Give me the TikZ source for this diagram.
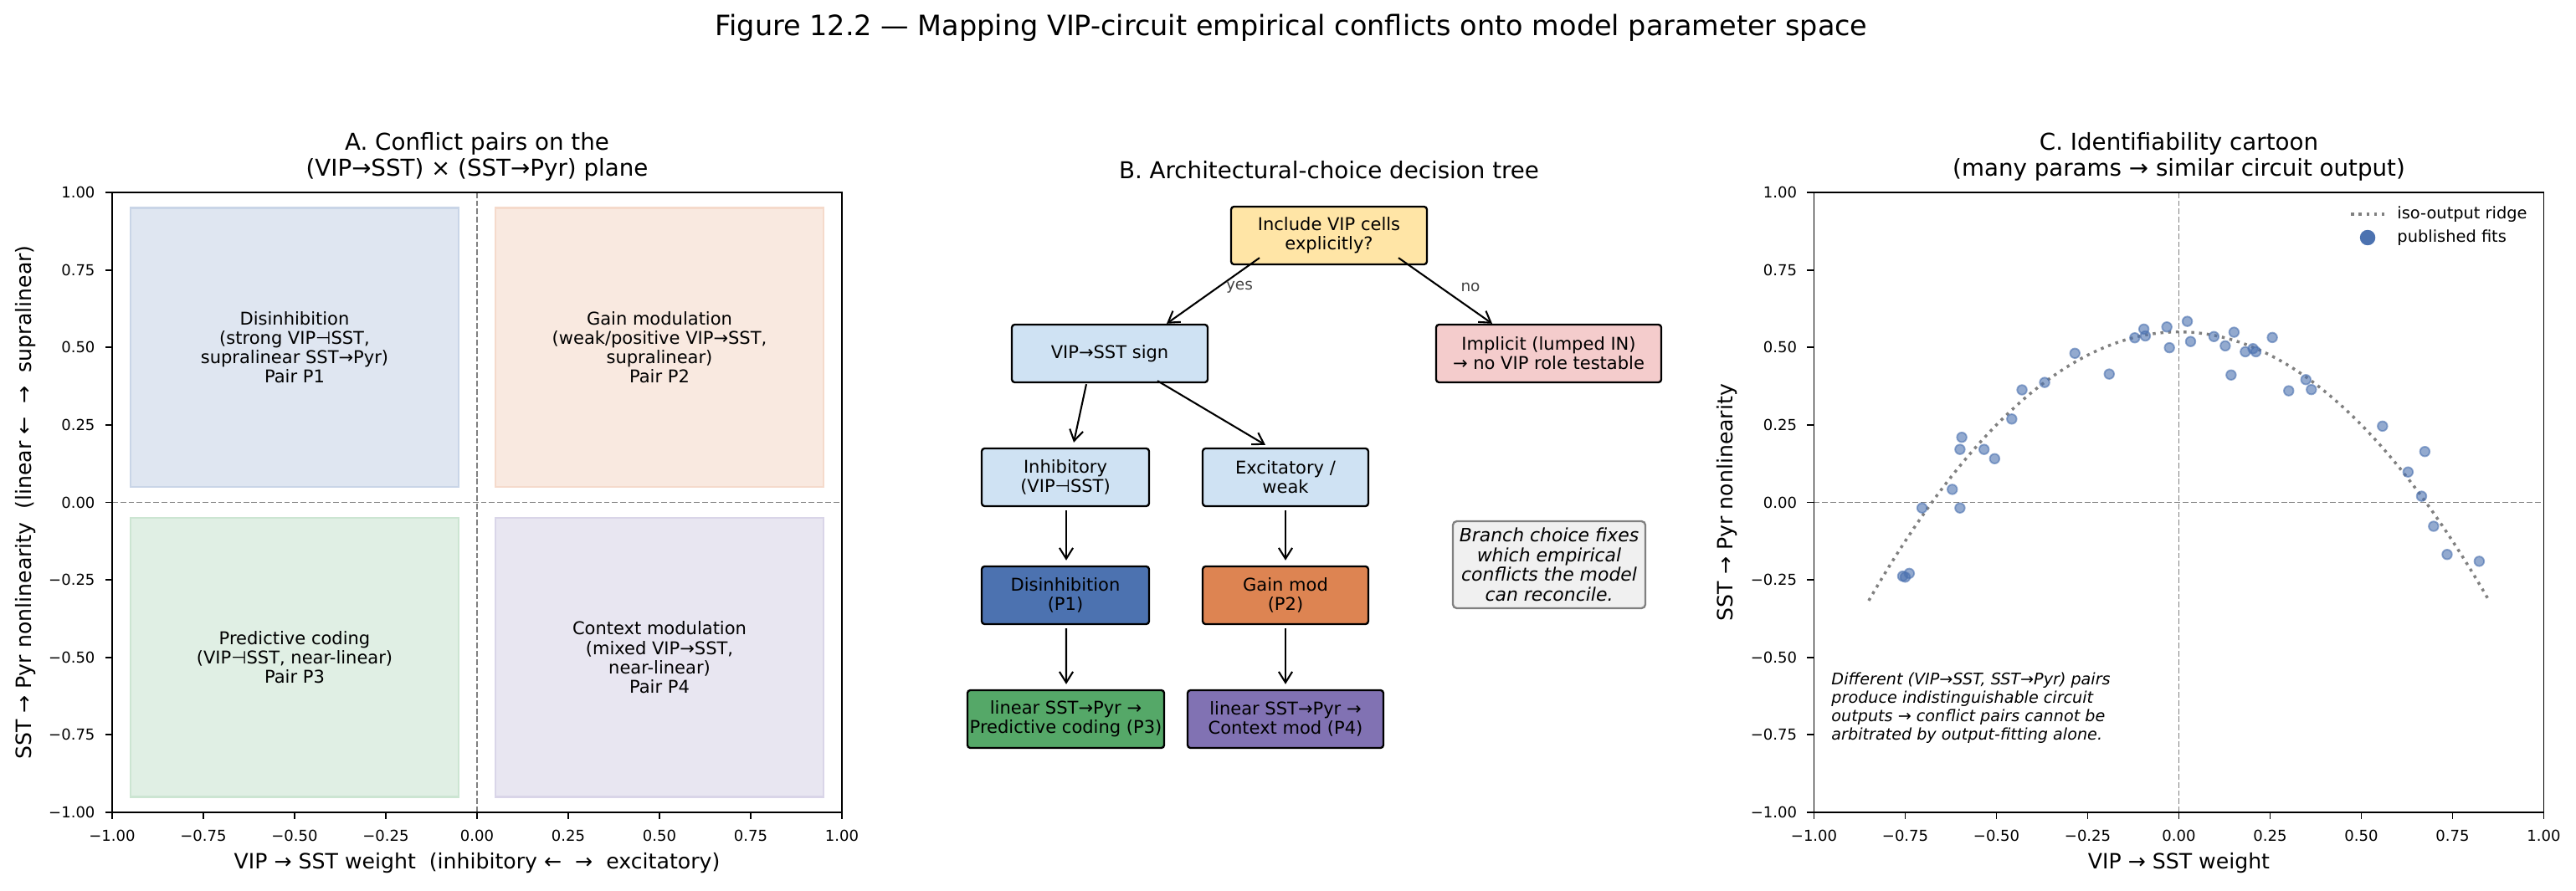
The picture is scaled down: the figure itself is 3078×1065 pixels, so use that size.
\documentclass[tikz,border=0pt]{standalone}
\usepackage{fontspec}
\setmainfont{DejaVu Sans}[ItalicFont={DejaVu Sans Oblique}]
\usetikzlibrary{arrows.meta,calc}
\definecolor{cBlue}{HTML}{4C72B0}
\definecolor{cOrange}{HTML}{DD8452}
\definecolor{cGreen}{HTML}{55A868}
\definecolor{cPurple}{HTML}{8172B3}
\definecolor{cYellow}{HTML}{FFE5A6}
\definecolor{cLight}{HTML}{CFE2F3}
\definecolor{cPink}{HTML}{F4CCCC}
\definecolor{cNote}{HTML}{F0F0F0}
\definecolor{cGrayTxt}{HTML}{444444}
\newcommand{\fsz}[2]{\fontsize{#1}{#2}\selectfont}
\begin{document}
\begin{tikzpicture}[x=0.433pt,y=-0.433pt,
  box/.style={draw=black, line width=1pt, rounded corners=1.5pt, align=center, inner sep=0pt, minimum height=29.9pt, font=\fsz{9.1}{10}},
  arr/.style={line width=0.9pt, -{Straight Barb[length=5.6pt,width=7pt]}},
  spine/.style={line width=0.8pt, black},
  zline/.style={gray, line width=0.8pt, dash pattern=on 2.96pt off 1.28pt},
  ridge/.style={gray, line width=1.5pt, dash pattern=on 1.5pt off 2.5pt},
  tlab/.style={font=\fsz{7.8}{9}, inner sep=0pt},
  alab/.style={font=\fsz{10.9}{12}, inner sep=0pt},
  ptitle/.style={font=\fsz{12}{13.4}, align=center, inner sep=0pt},
  region/.style={font=\fsz{9.1}{10}, align=center, inner sep=0pt},
  fitpt/.style={fill=cBlue, draw=cBlue, line width=0.8pt, opacity=0.6},
  regA/.style={fill=#1!18, draw=#1!30, line width=1pt}
]
\fill[white] (0,0) rectangle (3078,1065);
\path[use as bounding box] (0,0) rectangle (3078,1065);

% main title
\node[font=\fsz{14.5}{16}, inner sep=0pt] (maintitle) at (1543,33) {Figure 12.2 — Mapping VIP-circuit empirical conflicts onto model parameter space};

% ================= Panel A =================
\node[ptitle] (titleA) at (570,187.5) {A. Conflict pairs on the\\(VIP→SST) × (SST→Pyr) plane};
\begin{scope}[shift={(570,600.5)}, x=188.788pt, y=160.43pt]
  \draw[regA=cBlue] (-0.95,0.05) rectangle (-0.05,0.95);
  \draw[regA=cOrange] (0.05,0.05) rectangle (0.95,0.95);
  \draw[regA=cGreen] (-0.95,-0.95) rectangle (-0.05,-0.05);
  \draw[regA=cPurple] (0.05,-0.95) rectangle (0.95,-0.05);
  \draw[zline] (0,-1) -- (0,1);
  \draw[zline] (-1,0) -- (1,0);
  \node[region] (rP1) at (-0.5,0.5) {Disinhibition\\(strong VIP⊣SST,\\supralinear SST→Pyr)\\Pair P1};
  \node[region] (rP2) at (0.5,0.5) {Gain modulation\\(weak/positive VIP→SST,\\supralinear)\\Pair P2};
  \node[region] (rP3) at (-0.5,-0.5) {Predictive coding\\(VIP⊣SST, near-linear)\\Pair P3};
  \node[region] (rP4) at (0.5,-0.5) {Context modulation\\(mixed VIP→SST,\\near-linear)\\Pair P4};
  \draw[spine] (-1,-1) rectangle (1,1);
  \foreach \t/\l [count=\i] in {-1/−1.00,-0.75/−0.75,-0.5/−0.50,-0.25/−0.25,0/0.00,0.25/0.25,0.5/0.50,0.75/0.75,1/1.00}{
    \draw[spine] (\t,-1) -- ++(0pt,-3.5pt);
    \node[tlab, anchor=north] (axAx\i) at ([yshift=-9.1pt]\t,-1) {\l};
    \draw[spine] (-1,\t) -- ++(-3.5pt,0pt);
    \node[tlab, anchor=east] (axAy\i) at ([xshift=-8.7pt]-1,\t) {\l};
  }
\end{scope}
\node[alab] (xlabA) at (570,1032) {VIP → SST weight\ \ (inhibitory ←\ \ →\ \ excitatory)};
\node[alab, rotate=90] (ylabA) at (31,600.5) {SST → Pyr nonlinearity\ \ (linear ←\ \ →\ \ supralinear)};

% ================= Panel B =================
\node[ptitle] (titleB) at (1588,203) {B. Architectural-choice decision tree};
\node[box, fill=cYellow, minimum width=101.3pt] (top) at (1588,281.5) {Include VIP cells\\explicitly?};
\node[box, fill=cLight, minimum width=101.3pt] (sign) at (1326,422.5) {VIP→SST sign};
\node[box, fill=cPink, minimum width=116.5pt] (impl) at (1850.5,422.5) {Implicit (lumped IN)\\→ no VIP role testable};
\node[box, fill=cLight, minimum width=86.6pt] (inh) at (1273,570.5) {Inhibitory\\(VIP⊣SST)};
\node[box, fill=cLight, minimum width=85.7pt] (exc) at (1536,570.5) {Excitatory /\\weak};
\node[box, fill=cBlue, minimum width=86.6pt] (dis) at (1273,711.5) {Disinhibition\\(P1)};
\node[box, fill=cOrange, minimum width=85.7pt] (gain) at (1536,711.5) {Gain mod\\(P2)};
\node[box, fill=cGreen, minimum width=101.8pt] (p3) at (1273.5,859.5) {linear SST→Pyr →\\Predictive coding (P3)};
\node[box, fill=cPurple, minimum width=101.3pt] (p4) at (1536,859.5) {linear SST→Pyr →\\Context mod (P4)};
\node[draw=gray, line width=1pt, fill=cNote, rounded corners=2pt, minimum width=99.6pt, minimum height=45pt, inner sep=0pt, align=center, font=\fsz{9.5}{10.2}\itshape] (note) at (1851,675) {Branch choice fixes\\which empirical\\conflicts the model\\can reconcile.};

\draw[arr] ($(top.south)+(-83,-9)$) -- ($(sign.north)+(68,0)$);
\draw[arr] ($(top.south)+(83,-9)$) -- ($(impl.north)+(-67.5,0)$);
\node[font=\fsz{8}{9}, text=cGrayTxt, inner sep=0pt] (yes) at (1481,343) {yes};
\node[font=\fsz{8}{9}, text=cGrayTxt, inner sep=0pt] (no) at (1757,343) {no};
\draw[arr] ($(sign.south)+(-28,1)$) -- ($(inh.north)+(10,-6)$);
\draw[arr] ($(sign.south)+(57,-3)$) -- ($(exc.north)+(-24,-3)$);
\draw[arr] ($(inh.south)+(1,4)$) -- ($(dis.north)+(1,-6)$);
\draw[arr] ($(exc.south)+(0,4)$) -- ($(gain.north)+(0,-6)$);
\draw[arr] ($(dis.south)+(1,4)$) -- ($(p3.north)+(0.5,-6)$);
\draw[arr] ($(gain.south)+(0,4)$) -- ($(p4.north)+(0,-6)$);

% ================= Panel C =================
\node[ptitle] (titleC) at (2603.5,187.5) {C. Identifiability cartoon\\(many params → similar circuit output)};
\begin{scope}[shift={(2603.5,600.5)}, x=188.788pt, y=160.43pt]
  \draw[zline] (0,-1) -- (0,1);
  \draw[zline] (-1,0) -- (1,0);
  \draw[ridge] plot[domain=-0.85:0.85, samples=120] (\x, {0.55-1.2*\x*\x});
  \foreach \px/\py in {-0.704/-0.018,-0.621/0.042,-0.600/-0.018,-0.600/0.171,-0.595/0.210,-0.534/0.171,-0.505/0.141,-0.458/0.269,-0.430/0.363,-0.368/0.387,-0.285/0.481,-0.191/0.414,-0.121/0.531,-0.096/0.559,-0.092/0.537,-0.033/0.566,-0.026/0.499,0.023/0.584,0.032/0.519,0.096/0.535,0.127/0.505,0.151/0.549,0.143/0.411,0.182/0.486,0.203/0.496,0.211/0.486,0.256/0.532,0.301/0.360,0.348/0.396,0.363/0.364,0.558/0.246,0.628/0.098,0.674/0.164,0.665/0.020,0.698/-0.077,-0.757/-0.238,-0.750/-0.241,-0.739/-0.229,0.735/-0.168,0.823/-0.190}{
    \filldraw[fitpt] (\px,\py) circle[radius=2.5pt];
  }
  \draw[spine] (-1,-1) rectangle (1,1);
  \foreach \t/\l [count=\i] in {-1/−1.00,-0.75/−0.75,-0.5/−0.50,-0.25/−0.25,0/0.00,0.25/0.25,0.5/0.50,0.75/0.75,1/1.00}{
    \draw[spine] (\t,-1) -- ++(0pt,-3.5pt);
    \node[tlab, anchor=north] (axCx\i) at ([yshift=-9.1pt]\t,-1) {\l};
    \draw[spine] (-1,\t) -- ++(-3.5pt,0pt);
    \node[tlab, anchor=east] (axCy\i) at ([xshift=-8.7pt]-1,\t) {\l};
  }
\end{scope}
\node[alab] (xlabC) at (2603.5,1032) {VIP → SST weight};
\node[alab, rotate=90] (ylabC) at (2064,600.5) {SST → Pyr nonlinearity};
% legend
\coordinate (legA) at (2809,256);
\coordinate (legB) at (2849,256);
\draw[ridge] (legA) -- (legB);
\node[font=\fsz{8.4}{9.5}, anchor=west, inner sep=0pt] (leg1) at (2864,256) {iso-output ridge};
\fill[cBlue] (2829,284) circle[radius=4pt];
\node[font=\fsz{8.4}{9.5}, anchor=west, inner sep=0pt] (leg2) at (2864,284) {published fits};
% note
\node[font=\fsz{8.3}{9.5}\itshape, anchor=west, align=left, inner sep=0pt] (noteC) at (2188,846) {Different (VIP→SST, SST→Pyr) pairs\\produce indistinguishable circuit\\outputs → conflict pairs cannot be\\arbitrated by output-fitting alone.};
\end{tikzpicture}
\end{document}
